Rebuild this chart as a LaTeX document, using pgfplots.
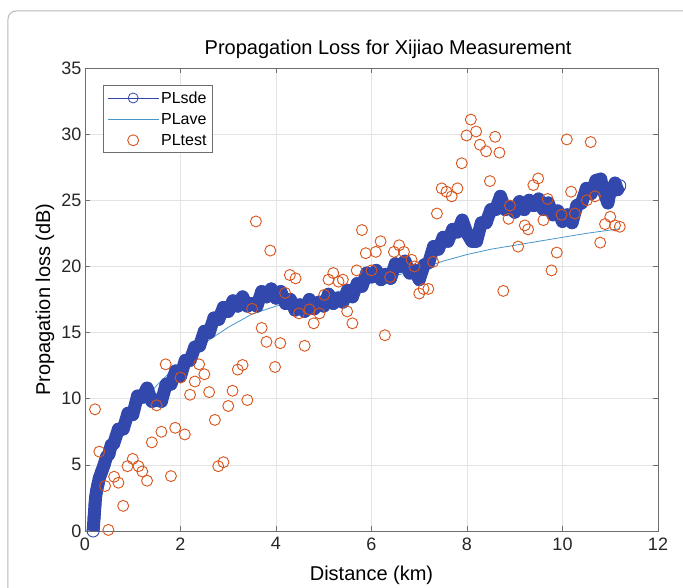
\documentclass[border=0pt]{standalone}
\usepackage{pgfplots}
\pgfplotsset{compat=1.18}
\usepackage{fontspec}
\setmainfont{Liberation Sans}
\definecolor{sdeblue}{RGB}{50,72,172}
\definecolor{aveblue}{RGB}{70,150,200}
\definecolor{testorange}{RGB}{217,83,25}
\definecolor{axgray}{RGB}{110,110,110}

\begin{document}
\begin{tikzpicture}
\useasboundingbox (-85pt,-56pt) rectangle (598pt,531pt);
\draw[gray!55, line width=1pt, rounded corners=8pt] (-77pt,-90pt) rectangle (620pt,520pt);
\begin{axis}[
  width=573pt, height=463pt, scale only axis,
  xmin=0, xmax=12, ymin=0, ymax=35,
  xtick={0,2,...,12}, ytick={0,5,...,35},
  grid=major, grid style={gray!22, line width=0.5pt},
  axis line style={axgray, line width=0.7pt},
  tick style={axgray, line width=0.6pt},
  major tick length=5pt, tick align=inside,
  /pgf/number format/assume math mode=true,
  ticklabel style={font=\fontsize{18}{20}\selectfont, text=black!85},
  xticklabel style={yshift=-3pt},
  title={Propagation Loss for Xijiao Measurement},
  title style={font=\fontsize{20}{22}\selectfont, at={(axis description cs:0.529,1.028)}, anchor=center},
  xlabel={Distance (km)},
  xlabel style={font=\fontsize{20}{22}\selectfont, at={(axis description cs:0.5,-0.095)}, anchor=center},
  ylabel={Propagation loss (dB)},
  ylabel style={font=\fontsize{20}{22}\selectfont, at={(axis description cs:-0.070,0.5)}, anchor=center},
  legend style={at={(rel axis cs:0.0314,0.963)}, anchor=north west, draw=axgray, line width=0.6pt,
    font=\fontsize{16}{18}\selectfont, row sep=4.5pt, inner xsep=4pt, inner ysep=4pt},
  legend cell align=left,
]
% PLave first so the band covers it
\addplot[aveblue, line width=0.8pt, forget plot] coordinates {
(0.17,0.3)(0.25,2.0)(0.35,3.6)(0.5,5.2)(0.75,7.2)(1.0,8.7)(1.25,9.9)(1.5,11.0)(1.75,11.9)
(2.0,12.7)(2.25,13.5)(2.5,14.2)(2.75,14.8)(3.0,15.4)(3.25,15.9)(3.5,16.4)(3.75,16.7)(4.0,17.0)
(4.5,17.4)(5.0,17.8)(5.5,18.3)(6.0,18.8)(6.5,19.3)(7.0,19.8)(7.5,20.4)(8.0,20.9)(8.5,21.3)
(9.0,21.6)(9.5,21.9)(10.0,22.2)(10.5,22.5)(11.2,22.85)
};
% PLsde
\addplot[sdeblue, line width=13pt, line join=round, mark=o, mark size=6pt,
  mark options={line width=0.9pt, solid},
  legend image code/.code={\draw[sdeblue, line width=0.6pt] (0pt,0pt) -- (51pt,0pt);
    \draw[sdeblue, line width=0.8pt] (25.5pt,0pt) circle (5pt);}] coordinates {
(0.17,0.0)(0.18,0.5)(0.19,1.0)(0.20,1.5)(0.21,2.0)(0.22,2.5)(0.24,3.0)(0.27,3.5)(0.30,4.0)
(0.35,4.5)(0.40,5.0)(0.45,5.6)(0.50,5.8)(0.55,6.5)(0.60,6.6)(0.70,7.7)(0.80,7.7)(0.90,8.9)
(1.00,8.8)(1.10,10.2)(1.20,10.1)(1.30,10.8)(1.40,9.8)(1.50,9.9)(1.60,9.8)(1.70,11.1)(1.80,11.1)
(1.90,12.1)(2.00,11.7)(2.10,12.9)(2.20,12.9)(2.30,13.9)(2.40,14.0)(2.50,15.1)(2.60,15.0)
(2.70,16.1)(2.80,16.0)(2.90,16.9)(3.00,16.6)(3.10,17.4)(3.20,17.0)(3.30,17.7)(3.40,17.0)
(3.50,17.2)(3.60,17.0)(3.70,18.1)(3.80,17.7)(3.90,18.3)(4.00,17.6)(4.10,18.1)(4.20,17.2)
(4.30,17.5)(4.40,16.7)(4.50,17.1)(4.60,16.6)(4.70,17.5)(4.80,16.8)(4.90,17.3)(5.00,17.0)
(5.10,17.9)(5.20,17.2)(5.30,17.6)(5.40,17.3)(5.50,18.2)(5.60,17.7)(5.70,18.7)(5.80,18.5)
(5.90,19.5)(6.00,19.2)(6.10,19.7)(6.20,19.0)(6.30,19.4)(6.40,19.1)(6.50,20.2)(6.60,20.0)
(6.70,20.4)(6.80,19.5)(6.90,19.7)(7.00,19.0)(7.10,20.1)(7.20,20.3)(7.30,21.5)(7.40,21.3)
(7.50,22.2)(7.60,21.9)(7.70,22.8)(7.80,22.6)(7.90,23.5)(8.00,22.5)(8.10,21.9)(8.20,21.9)
(8.30,23.3)(8.40,23.3)(8.50,24.3)(8.60,24.3)(8.70,25.3)(8.80,24.3)(8.90,24.5)(9.00,24.1)
(9.10,24.9)(9.20,24.3)(9.30,25.0)(9.40,24.6)(9.50,25.1)(9.60,24.3)(9.70,24.8)(9.80,23.9)
(9.90,24.2)(10.00,23.4)(10.10,23.9)(10.20,23.3)(10.30,24.6)(10.40,24.8)(10.50,25.9)(10.60,25.5)
(10.70,26.5)(10.80,26.6)(10.85,25.8)(10.90,25.3)(10.95,24.8)(11.00,25.7)(11.05,25.7)(11.10,26.3)
(11.15,25.8)(11.20,26.1)
};
\addlegendentry{PLsde}
\addlegendimage{aveblue, line width=0.8pt, legend image code/.code={\draw[aveblue, line width=0.8pt] (0pt,0pt) -- (51pt,0pt);}}
\addlegendentry{PLave}
% PLtest
\addplot[only marks, mark=o, mark size=5.5pt, testorange, mark options={line width=0.9pt},
  legend image code/.code={\draw[testorange, line width=0.9pt] (25.5pt,0pt) circle (5.5pt);}] coordinates {
(0.21,9.2)(0.30,6.0)(0.42,3.4)(0.49,0.08)(0.61,4.1)(0.70,3.65)(0.80,1.9)(0.89,4.9)(1.0,5.45)
(1.12,4.9)(1.2,4.5)(1.30,3.8)(1.40,6.7)(1.50,9.5)(1.60,7.5)(1.69,12.6)(1.80,4.15)(1.89,7.8)
(2.0,11.6)(2.09,7.3)(2.2,10.3)(2.30,11.3)(2.39,12.6)(2.50,11.85)(2.60,10.5)(2.72,8.4)(2.79,4.9)
(2.90,5.2)(3.0,9.45)(3.09,10.6)(3.2,12.2)(3.30,12.55)(3.40,9.9)(3.50,16.8)(3.58,23.4)(3.70,15.35)
(3.80,14.3)(3.88,21.2)(3.98,12.4)(4.09,14.2)(4.19,18.0)(4.29,19.35)(4.41,19.1)(4.48,16.45)
(4.60,14.0)(4.70,16.75)(4.79,15.7)(4.91,16.45)(5.01,17.85)(5.10,19.0)(5.20,19.5)(5.31,18.85)
(5.40,19.0)(5.49,16.6)(5.60,15.7)(5.69,19.7)(5.80,22.75)(5.88,21.0)(6.0,19.7)(6.09,21.1)
(6.19,21.9)(6.28,14.8)(6.39,19.2)(6.47,21.1)(6.58,21.6)(6.68,21.1)(6.84,20.5)(6.90,20.0)
(7.0,17.95)(7.09,18.3)(7.19,18.3)(7.29,20.35)(7.37,24.0)(7.47,25.9)(7.57,25.65)(7.68,25.3)
(7.80,25.9)(7.89,27.8)(7.99,29.9)(8.08,31.1)(8.19,30.2)(8.27,29.2)(8.40,28.7)(8.48,26.45)
(8.59,29.8)(8.68,28.6)(8.76,18.15)(8.87,23.6)(8.90,24.6)(9.07,21.5)(9.21,23.1)(9.28,22.8)
(9.39,26.15)(9.49,26.65)(9.6,23.5)(9.69,25.1)(9.77,19.7)(9.88,21.05)(9.98,23.9)(10.09,29.6)
(10.18,25.65)(10.26,24.0)(10.51,25.0)(10.59,29.4)(10.68,25.3)(10.79,21.8)(10.89,23.2)
(11.0,23.75)(11.1,23.1)(11.2,23.0)
};
\addlegendentry{PLtest}
\end{axis}
\end{tikzpicture}
\end{document}
